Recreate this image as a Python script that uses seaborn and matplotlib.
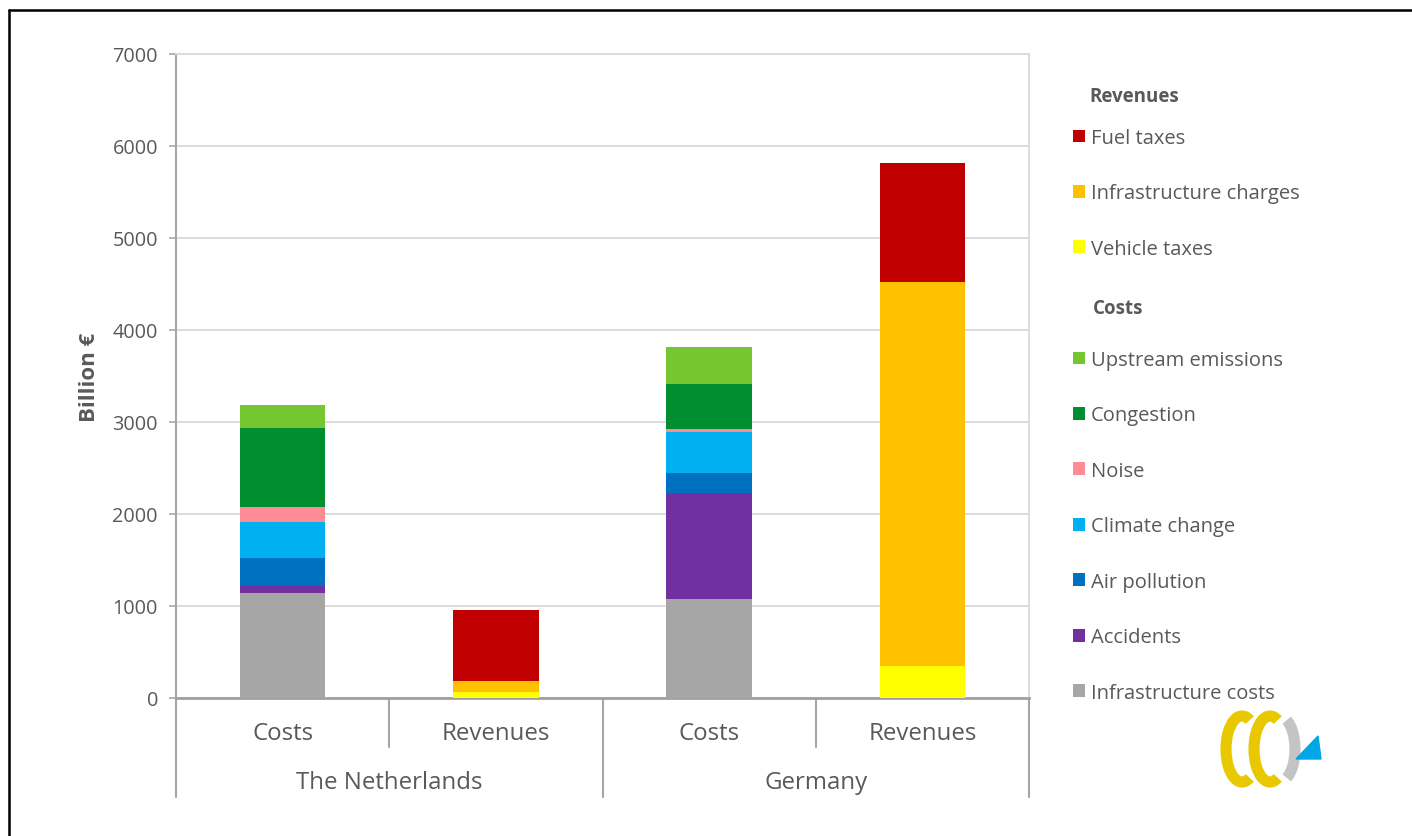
import numpy as np
import pandas as pd
import matplotlib
matplotlib.use("Agg")
import matplotlib.pyplot as plt
import seaborn as sns
from matplotlib.patches import Patch, Arc, Polygon
from matplotlib.lines import Line2D

# ---------------- data ----------------
countries = ["The Netherlands", "Germany"]
bar_types = ["Costs", "Revenues"]

cost_components = ["Infrastructure costs", "Accidents", "Air pollution", "Climate change",
                   "Noise", "Congestion", "Upstream emissions"]
nl_costs = [1145, 69, 308, 391, 163, 859, 250]
de_costs = [1079, 1153, 217, 442, 33, 492, 396]

revenue_components = ["Vehicle taxes", "Infrastructure charges", "Fuel taxes"]
nl_revenues = [65, 123, 772]
de_revenues = [346, 4180, 1294]

colors = {
    "Fuel taxes": "#C00000",
    "Infrastructure charges": "#FFC000",
    "Vehicle taxes": "#FFFF00",
    "Upstream emissions": "#75C631",
    "Congestion": "#008E30",
    "Noise": "#FF8B97",
    "Climate change": "#00B0F0",
    "Air pollution": "#0070C0",
    "Accidents": "#7030A0",
    "Infrastructure costs": "#A6A6A6",
}

# ---------------- build long table ----------------
bar_order = ["NL|Costs", "NL|Revenues", "DE|Costs", "DE|Revenues"]
rows = []
for comp, v in zip(cost_components, nl_costs):
    rows.append(("NL|Costs", comp, v))
for comp, v in zip(revenue_components, nl_revenues):
    rows.append(("NL|Revenues", comp, v))
for comp, v in zip(cost_components, de_costs):
    rows.append(("DE|Costs", comp, v))
for comp, v in zip(revenue_components, de_revenues):
    rows.append(("DE|Revenues", comp, v))
df = pd.DataFrame(rows, columns=["bar", "component", "value"])
df["cum"] = df.groupby("bar")["value"].cumsum()

# ---------------- style ----------------
sns.set_theme(style="white")
plt.rcParams["font.family"] = ["Open Sans", "DejaVu Sans"]
txt = "#595959"

fig = plt.figure(figsize=(14.12, 8.37), dpi=100)
W, H = 1412, 837
ax = fig.add_axes([176 / W, 1 - 699 / H, (1029 - 176) / W, (699 - 55) / H])

# draw stacked bars: cumulative totals from top segment down
for comps in (cost_components, revenue_components):
    for comp in reversed(comps):
        sub = df[df["component"] == comp]
        sns.barplot(data=sub, x="bar", y="cum", order=bar_order, color=colors[comp],
                    saturation=1, width=0.4, linewidth=0, errorbar=None, ax=ax, zorder=3)

ax.set_xlim(-0.5, 3.5)
ax.set_ylim(0, 7000)
ax.set_yticks(np.arange(0, 7001, 1000))
ax.set_yticklabels([str(v) for v in range(0, 7001, 1000)], fontsize=14.3, color=txt)
ax.yaxis.grid(True, color="#D9D9D9", linewidth=1.3, zorder=0)
ax.set_axisbelow(True)
ax.set_xticks([])
ax.set_xlabel("")
ax.set_ylabel("Billion €", fontsize=16, fontweight="bold", color=txt, labelpad=9)
ax.tick_params(axis="y", which="both", left=True, length=5, width=1.2, color="#A6A6A6", pad=8)

for s in ("top", "right"):
    ax.spines[s].set_color("#D9D9D9")
    ax.spines[s].set_linewidth(1.3)
ax.spines["left"].set_color("#A6A6A6")
ax.spines["left"].set_linewidth(1.5)
ax.spines["bottom"].set_color("#A0A0A0")
ax.spines["bottom"].set_linewidth(2)

# category separators and labels
tr = ax.get_xaxis_transform()
short = -(748 - 699) / 644
long_ = -(798 - 699) / 644
for xpos, ybot in [(-0.5, long_), (0.5, short), (1.5, long_), (2.5, short), (3.5, long_)]:
    ax.add_line(Line2D([xpos, xpos], [0, ybot], transform=tr, color="#A6A6A6",
                       linewidth=1.5, clip_on=False))
for i, b in enumerate(bar_order):
    ax.text(i, -(734 - 699) / 644, b.split("|")[1], transform=tr, ha="center", va="center",
            fontsize=17.3, color=txt)
for j, c in enumerate(countries):
    ax.text(0.5 + 2 * j, -(783 - 699) / 644, c, transform=tr, ha="center", va="center",
            fontsize=17.3, color=txt)

# ---------------- legends ----------------
def handles_for(names):
    return [Patch(facecolor=colors[n], edgecolor="none") for n in names]

rev_names = list(reversed(revenue_components))
cost_names = list(reversed(cost_components))
common = dict(loc="upper left", frameon=False, fontsize=14.5, alignment="left",
              handlelength=0.6, handleheight=0.6, handletextpad=0.3, borderpad=0,
              borderaxespad=0, labelcolor=txt, labelspacing=1.76)
leg1 = fig.legend(handles_for(rev_names), rev_names,
                  bbox_to_anchor=(1073 / W, 1 - 129 / H), **common)
leg2 = fig.legend(handles_for(cost_names), cost_names,
                  bbox_to_anchor=(1073 / W, 1 - 351 / H), **common)

fig.text(1089 / W, 1 - 97 / H, "Revenues", fontsize=13.5, fontweight="bold", color=txt,
         ha="left", va="center")
fig.text(1093 / W, 1 - 309 / H, "Costs", fontsize=13.5, fontweight="bold", color=txt,
         ha="left", va="center")

# ---------------- outer frame (top & left) ----------------
fig.add_artist(Line2D([9 / W, 1], [1 - 11 / H, 1 - 11 / H], transform=fig.transFigure,
                      color="black", linewidth=1.8))
fig.add_artist(Line2D([9 / W, 9 / W], [0, 1 - 11 / H], transform=fig.transFigure,
                      color="black", linewidth=1.8))

# ---------------- logo ----------------
lax = fig.add_axes([1218 / W, 1 - 790 / H, 110 / W, 80 / H])
lax.set_xlim(0, 110)
lax.set_ylim(0, 80)
lax.axis("off")
lax.add_patch(Arc((24, 40), 32, 66, theta1=75, theta2=285, color="#E8C800", linewidth=8))
lax.add_patch(Arc((52, 40), 32, 66, theta1=75, theta2=285, color="#E8C800", linewidth=8))
lax.add_patch(Arc((61, 40), 32, 66, theta1=-75, theta2=75, color="#C4C4C4", linewidth=8))
lax.add_patch(Polygon([[78, 30], [103, 30], [100, 53]], closed=True, color="#00A6E8"))

fig.savefig("out.png", dpi=100)
